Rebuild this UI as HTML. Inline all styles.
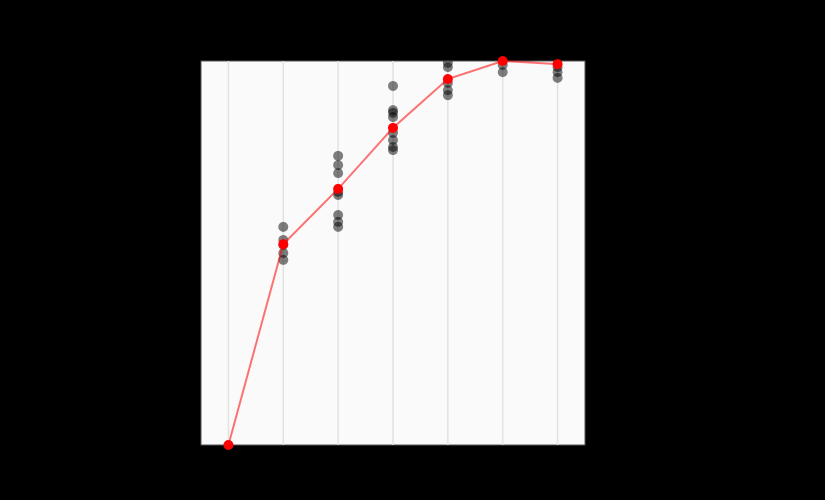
<!DOCTYPE html>
<html><head><meta charset="utf-8">
<style>html,body{margin:0;padding:0;background:#000;}svg{display:block;}</style>
</head><body>
<svg id="chart" width="825" height="500" xmlns="http://www.w3.org/2000/svg">
<defs><clipPath id="clip"><rect x="201" y="61" width="384" height="384"/></clipPath></defs>
<rect x="0" y="0" width="825" height="500" fill="#000"/>
<rect x="201" y="61" width="384" height="384" fill="#fafafa" stroke="#555" stroke-width="1"/>
<g id="grid"></g><g id="pts" clip-path="url(#clip)"></g><g id="mean"></g>
</svg>
<script>
const categories = [0, 1, 2, 3, 4, 5, 6];
const pointValues = [
  [0],
  [0.568, 0.534, 0.521, 0.5, 0.482],
  [0.753, 0.729, 0.708, 0.659, 0.651, 0.599, 0.581, 0.568],
  [0.935, 0.872, 0.865, 0.854, 0.813, 0.794, 0.776, 0.768],
  [0.995, 0.984, 0.943, 0.924, 0.911],
  [1.003, 0.99, 0.971],
  [0.984, 0.971, 0.956]
];
const meanValues = [0, 0.523, 0.667, 0.826, 0.953, 1.0, 0.992];

const NS = 'http://www.w3.org/2000/svg';
const X0 = 201, X1 = 585, Y0 = 445, Y1 = 61;
function xs(i) { return X0 + (i + 0.5) / categories.length * (X1 - X0); }
function ys(v) { return Y0 - v * (Y0 - Y1); }
function mk(tag, attrs, parent) {
  const e = document.createElementNS(NS, tag);
  for (const k in attrs) e.setAttribute(k, attrs[k]);
  parent.appendChild(e);
  return e;
}
const grid = document.getElementById('grid');
const pts = document.getElementById('pts');
const mean = document.getElementById('mean');
categories.forEach((c, i) => {
  const l = mk('line', {x1: xs(i), x2: xs(i), y1: Y1, y2: Y0, stroke: '#e2e2e2', 'stroke-width': 1.5}, grid);
  
  
});
pointValues.forEach((arr, i) => {
  arr.forEach(v => {
    const p = mk('circle', {cx: xs(i), cy: ys(v), r: 5, fill: '#000', 'fill-opacity': 0.5}, pts);
    
    
  });
});
const d = meanValues.map((v, i) => (i ? 'L' : 'M') + xs(i) + ',' + ys(v)).join(' ');
const path = mk('path', {d: d, fill: 'none', stroke: '#ff0000', 'stroke-opacity': 0.55, 'stroke-width': 2}, mean);


meanValues.forEach((v, i) => {
  const c = mk('circle', {cx: xs(i), cy: ys(v), r: 5, fill: '#ff0000'}, mean);
  
  
});
</script>
</body></html>
